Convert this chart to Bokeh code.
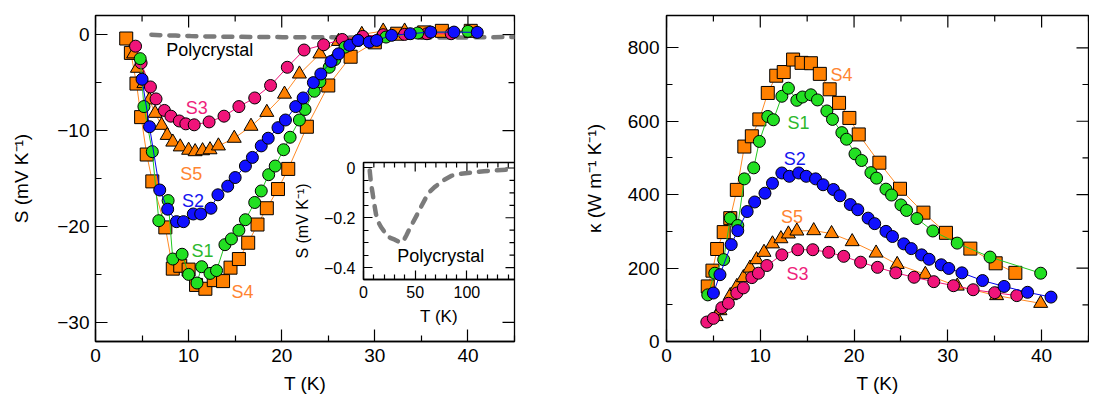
import math
from bokeh.plotting import figure
from bokeh.models import Range1d, FixedTicker, Label
from bokeh.layouts import row
from bokeh.embed import file_html
from bokeh.resources import INLINE

FONT = "Liberation Sans"

# ---------------- Thermopower S (mV/K) vs T (K) ----------------
s4_T = [3.3, 3.8, 4.4, 4.9, 5.5, 6.1, 7.5, 8.3, 9.1, 10.0, 10.8, 11.8, 12.7, 13.7, 14.5, 15.4, 16.4, 17.4,
        18.4, 19.6, 20.7, 22.7, 25.0, 27.4, 30.0, 32.4, 35.3, 37.2, 40.3]
s4_S = [-0.4, -1.9, -5.1, -8.6, -12.5, -15.3, -20.1, -24.4, -24.1, -24.5, -26.1, -26.5, -25.6, -25.7, -24.3,
        -23.4, -21.7, -19.8, -18.1, -16.1, -14.0, -9.6, -5.3, -2.3, -0.8, 0.1, 0.24, 0.4, 0.4]

s1_T = [4.8, 5.2, 6.1, 6.8, 7.8, 8.3, 9.3, 10.0, 10.9, 11.4, 12.3, 13.0, 13.9, 14.6, 15.4, 16.1, 17.1, 17.8,
        18.6, 19.3, 20.2, 20.9, 21.9, 22.5, 23.5, 24.1, 25.1, 25.7, 26.8, 28.2, 31.2, 34.6, 40.0]
s1_S = [-2.5, -7.5, -12.2, -19.4, -17.3, -23.4, -22.9, -25.0, -25.9, -24.2, -24.9, -24.6, -21.9, -21.3, -20.4,
        -19.3, -17.5, -16.3, -14.6, -13.7, -12.0, -10.7, -8.9, -7.8, -5.9, -4.9, -3.4, -2.6, -1.3, -0.6,
        -0.25, 0.17, 0.35]

s2_T = [5.0, 5.8, 6.9, 7.75, 8.7, 9.45, 10.5, 11.3, 12.4, 13.15, 14.2, 15.0, 16.1, 16.85, 17.8, 18.55, 19.6,
        20.4, 21.5, 22.3, 23.4, 24.2, 25.3, 26.1, 27.3, 28.2, 29.4, 30.2, 31.8, 33.8, 36.0, 38.5, 41.0]
s2_S = [-4.65, -9.6, -16.2, -18.2, -19.5, -19.5, -18.7, -18.7, -18.1, -16.7, -15.8, -14.9, -13.7, -12.8,
        -11.6, -10.8, -9.7, -8.9, -7.5, -6.6, -5.0, -4.1, -2.8, -2.0, -1.1, -0.6, -0.77, -0.6, -0.07, 0.1,
        0.27, 0.27, 0.24]

s3_T = [4.3, 4.9, 5.9, 6.5, 7.4, 8.1, 9.0, 9.7, 10.6, 12.2, 13.8, 15.4, 17.1, 18.8, 20.6, 22.4, 24.5, 26.5,
        28.7, 30.9, 33.2, 35.6, 38.2]
s3_S = [-1.2, -2.95, -5.45, -6.7, -7.9, -8.5, -9.0, -9.3, -9.4, -9.1, -8.5, -7.5, -6.6, -5.3, -3.4, -1.6,
        -1.05, -0.5, -0.18, 0.0, 0.03, 0.1, 0.1]

s5_T = [4.1, 4.5, 5.2, 5.8, 6.4, 7.1, 7.7, 8.3, 9.1, 10.0, 10.7, 11.5, 12.3, 13.2, 14.9, 16.7, 18.4, 20.3,
        21.9, 24.1, 26.1, 28.6, 30.9, 33.2]
s5_S = [-2.0, -3.5, -5.1, -6.8, -8.2, -9.45, -10.5, -11.2, -11.7, -12.05, -12.2, -12.1, -12.0, -11.6, -10.8,
        -9.55, -8.1, -6.2, -4.1, -2.0, -0.7, 0.03, 0.38, 0.38]

poly_T = [6.0, 7.3, 8.6, 10.2, 12.1, 14.4, 16.9, 20.1, 23.3, 26.5, 30.3, 33.5, 36.7, 39.3, 41.5, 44.7, 47.9,
          52.0, 55.9, 60.0, 63.9, 68.7, 73.5, 78.2, 84.7, 91.1, 103.8, 116.6, 129.4, 145.4]
poly_S = [-0.01, -0.064, -0.096, -0.14, -0.186, -0.218, -0.237, -0.256, -0.275, -0.282, -0.288, -0.295, -0.30,
          -0.288, -0.27, -0.243, -0.218, -0.186, -0.154, -0.122, -0.096, -0.077, -0.062, -0.047, -0.032,
          -0.025, -0.019, -0.013, -0.009, -0.006]

# ---------------- Thermal conductivity kappa (W/m/K) vs T (K) ----------------
k4_T = [4.4, 4.9, 5.4, 6.1, 6.8, 7.5, 8.3, 9.1, 9.9, 10.8, 11.7, 12.5, 13.5, 14.4, 15.4, 16.35, 17.4, 18.4,
        19.5, 20.5, 22.7, 24.9, 27.4, 29.8, 32.4, 35.1, 37.2]
k4_K = [150, 193, 252, 298, 336, 413, 531, 559, 605, 677, 724, 734, 768, 759, 758, 729, 687, 650, 609, 564,
        487, 416, 351, 296, 253, 213, 187]

k1_T = [4.4, 5.15, 6.1, 6.8, 7.6, 8.3, 9.3, 9.9, 10.8, 11.4, 12.3, 13.0, 13.9, 14.5, 15.4, 16.1, 17.1, 17.7,
        18.7, 19.2, 20.1, 20.8, 21.8, 22.4, 23.4, 24.0, 25.0, 25.6, 26.7, 28.4, 31.0, 34.5, 39.9]
k1_K = [127, 186, 223, 336, 316, 443, 473, 545, 613, 604, 668, 690, 657, 666, 672, 658, 628, 605, 569, 551,
        511, 493, 460, 445, 415, 399, 372, 357, 335, 301, 268, 230, 186]

k2_T = [5.0, 5.7, 6.9, 7.6, 8.6, 9.4, 10.5, 11.3, 12.3, 13.1, 14.1, 14.9, 15.9, 16.7, 17.8, 18.5, 19.6, 20.4,
        21.5, 22.2, 23.4, 24.1, 25.3, 26.1, 27.2, 28.0, 29.3, 30.1, 31.5, 33.7, 36.0, 38.5, 41.0]
k2_K = [132, 182, 264, 302, 354, 380, 404, 431, 459, 450, 459, 450, 443, 427, 414, 397, 373, 359, 336, 321,
        300, 286, 266, 253, 236, 224, 209, 199, 187, 166, 150, 134, 121]

k5_T = [5.3, 5.7, 6.8, 7.5, 8.2, 8.9, 9.6, 10.4, 11.3, 12.2, 13.0, 13.9, 15.7, 17.6, 19.8, 22.35, 24.6, 27.6,
        31.0, 35.2, 39.9]
k5_K = [68, 84, 125, 150, 174, 200, 223, 243, 266, 280, 293, 301, 302, 294, 272, 241, 210, 183, 151, 125, 104]

k3_T = [4.3, 5.0, 5.9, 6.6, 7.5, 8.2, 9.1, 9.8, 10.7, 12.3, 14.0, 15.6, 17.3, 18.9, 20.7, 22.5, 24.45, 26.4,
        28.5, 30.6, 32.7, 35.0, 37.35]
k3_K = [53, 63, 92, 104, 132, 146, 174, 186, 207, 236, 250, 250, 243, 232, 216, 202, 187, 175, 163, 152, 141,
        133, 125]

# ---------------- ticks ----------------
T_ticks = [0, 10, 20, 30, 40]
T_minor = [5, 15, 25, 35, 45]
S_ticks = [-30, -20, -10, 0]
S_minor = [-25, -15, -5]
K_ticks = [0, 200, 400, 600, 800]
K_minor = [100, 300, 500, 700]
inset_T_ticks = [0, 50, 100]
inset_T_minor = [10, 20, 30, 40, 60, 70, 80, 90, 110, 120, 130, 140]
inset_S_ticks = [0, -0.2, -0.4]
inset_S_minor = [-0.05, -0.1, -0.15, -0.25, -0.3, -0.35]

# ---------------- label positions (data coords) ----------------
left_tags = [("S3", 9.7, -7.6), ("S5", 9.1, -14.5), ("S2", 9.3, -17.3), ("S1", 10.3, -22.6), ("S4", 14.6, -26.8)]
right_tags = [("S4", 17.5, 727), ("S1", 12.9, 595), ("S2", 12.5, 498), ("S5", 12.2, 339), ("S3", 12.8, 184)]

GREEN_F, GREEN_L, GREEN_T = "#22e022", "#22c822", "#2db82d"
BLUE_F, BLUE_L, BLUE_T = "#1010ff", "#0000ee", "#1515ee"
PINK_F, PINK_L, PINK_T = "#f0147a", "#f0147a", "#ee1f7c"
ORANGE_F, ORANGE_L, ORANGE_T = "#ff8000", "#ff8a25", "#ff8431"
GRAY = "#7b7b7b"
tag_colors = {"S1": GREEN_T, "S2": BLUE_T, "S3": PINK_T, "S4": ORANGE_T, "S5": ORANGE_T}


def minus(v):
    return f"{v:g}".replace("-", "\u2212")


def setup(p, xt, xm, yt, ym, fs, maj, mnr, xstand, ystand):
    p.grid.visible = False
    p.outline_line_color = "black"
    p.outline_line_width = 1.3
    p.background_fill_color = "white"
    xa, ya = p.below[0], p.left[0]
    for ax, t, m, st in ((xa, xt, xm, xstand), (ya, yt, ym, ystand)):
        ax.ticker = FixedTicker(ticks=t, minor_ticks=m)
        ax.major_label_overrides = {v: minus(v) for v in t}
        ax.major_label_text_font = FONT
        ax.major_label_text_font_size = f"{fs}px"
        ax.major_label_text_color = "black"
        ax.major_label_standoff = st
        ax.major_tick_in = maj
        ax.major_tick_out = 0
        ax.minor_tick_in = mnr
        ax.minor_tick_out = 0
        ax.axis_line_color = "black"
        ax.axis_line_width = 1.3
        ax.major_tick_line_width = 1.2
        ax.minor_tick_line_width = 1.2
    # mirrored inward ticks on the top and right edges
    xr, yr = p.x_range, p.y_range
    for ticks, L in ((xt, maj), (xm, mnr)):
        p.ray(x=ticks, y=[yr.end] * len(ticks), length=L, length_units="screen", angle=-math.pi / 2,
              line_color="black", line_width=1.2)
    for ticks, L in ((yt, maj), (ym, mnr)):
        p.ray(x=[xr.end] * len(ticks), y=ticks, length=L, length_units="screen", angle=math.pi,
              line_color="black", line_width=1.2)


def axlabel(ax, text, fs, standoff):
    ax.axis_label = text
    ax.axis_label_text_font = FONT
    ax.axis_label_text_font_size = f"{fs}px"
    ax.axis_label_text_font_style = "normal"
    ax.axis_label_text_color = "black"
    ax.axis_label_standoff = standoff


def tag(p, text, x, y, color, fs=18):
    p.add_layout(Label(x=x, y=y, text=text, text_color=color, text_font=FONT, text_font_size=f"{fs}px",
                       text_baseline="middle", text_align="left"))


def series(p, x, y, marker, fill, line, size):
    p.line(x, y, line_color=line, line_width=1)
    p.scatter(x, y, marker=marker, size=size, fill_color=fill, line_color="black", line_width=1)


# ---------------- left panel ----------------
p1 = figure(x_range=Range1d(0, 45), y_range=Range1d(-32, 2), width=546, height=393,
            min_border_left=84, min_border_right=40, min_border_top=7, min_border_bottom=60,
            toolbar_location=None, output_backend="svg", border_fill_color="white")
setup(p1, T_ticks, T_minor, S_ticks, S_minor, 19, 12, 6, 7, 6)
axlabel(p1.left[0], "S (mV K\u207b\u00b9)", 19, 22)
axlabel(p1.below[0], "T (K)", 19, 8)
p1.line(poly_T, poly_S, line_color=GRAY, line_width=4.5, line_dash="9 9", line_cap="round")
series(p1, s4_T, s4_S, "square", ORANGE_F, ORANGE_L, 13)
series(p1, s5_T, s5_S, "triangle", ORANGE_F, ORANGE_L, 14)
series(p1, s3_T, s3_S, "circle", PINK_F, PINK_L, 12)
series(p1, s1_T, s1_S, "circle", GREEN_F, GREEN_L, 12)
series(p1, s2_T, s2_S, "circle", BLUE_F, BLUE_L, 12)
for name, x, y in left_tags:
    tag(p1, name, x, y, tag_colors[name])
tag(p1, "Polycrystal", 7.6, -1.64, "black")

# ---------------- right panel ----------------
p2 = figure(x_range=Range1d(0, 45), y_range=Range1d(0, 888), width=535, height=393,
            min_border_left=112, min_border_right=1, min_border_top=7, min_border_bottom=60,
            toolbar_location=None, output_backend="svg", border_fill_color="white")
setup(p2, T_ticks, T_minor, K_ticks, K_minor, 19, 12, 6, 7, 7)
axlabel(p2.left[0], "\u03ba (W m\u207b\u00b9 K\u207b\u00b9)", 19, 20)
axlabel(p2.below[0], "T (K)", 19, 8)
series(p2, k4_T, k4_K, "square", ORANGE_F, ORANGE_L, 13)
series(p2, k5_T, k5_K, "triangle", ORANGE_F, ORANGE_L, 14)
series(p2, k3_T, k3_K, "circle", PINK_F, PINK_L, 12)
series(p2, k1_T, k1_K, "circle", GREEN_F, GREEN_L, 12)
series(p2, k2_T, k2_K, "circle", BLUE_F, BLUE_L, 12)
for name, x, y in right_tags:
    tag(p2, name, x, y, tag_colors[name])

# ---------------- inset ----------------
p3 = figure(x_range=Range1d(0, 146), y_range=Range1d(-0.448, 0.022), width=225, height=184,
            min_border_left=72, min_border_right=1, min_border_top=6, min_border_bottom=56,
            toolbar_location=None, output_backend="svg", border_fill_alpha=0)
setup(p3, inset_T_ticks, inset_T_minor, inset_S_ticks, inset_S_minor, 16, 9, 5, 6, 8)
axlabel(p3.left[0], "S (mV K\u207b\u00b9)", 16, 10)
axlabel(p3.below[0], "T (K)", 17, 6)
p3.line(poly_T, poly_S, line_color=GRAY, line_width=4.5, line_dash="9 9", line_cap="round")
tag(p3, "Polycrystal", 32.6, -0.352, "black")
p3.styles = {"position": "absolute", "left": "282px", "top": "147px"}

layout = row(p1, p2, p3)
layout.styles = {"position": "relative", "left": "8px", "top": "8px"}

open("out.html", "w").write(file_html(layout, INLINE))
